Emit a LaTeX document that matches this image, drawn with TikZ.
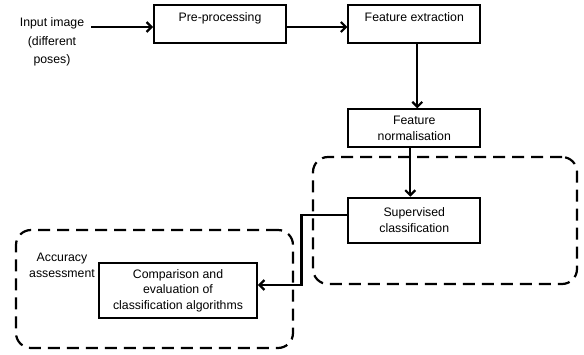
\documentclass[tikz,border=0pt]{standalone}
\usepackage{fontspec}
\setmainfont{Liberation Sans}
\usetikzlibrary{shapes,arrows.meta,positioning,calc}
\tikzset{
    procbox/.style={
        rectangle,
        draw=black,
        line width=1.8pt,
        minimum width=132pt,
        minimum height=38pt,
        align=center,
        font=\fontsize{12.3}{15.5}\selectfont
    },
    toptext/.style={
        inner ysep=0pt,
        text height=16pt,
        text depth=22pt
    },
    plaintext/.style={
        align=center,
        inner sep=2pt,
        font=\fontsize{12.3}{15.5}\selectfont
    },
    groupbox/.style={
        rectangle,
        rounded corners=15pt,
        draw=black,
        line width=2.2pt,
        dash pattern=on 12pt off 7pt
    },
    flow/.style={
        -{Straight Barb[length=5pt,width=10pt]},
        line width=2.2pt
    }
}

\begin{document}
\begin{tikzpicture}[x=1pt,y=-1pt]
\useasboundingbox (0,0) rectangle (584,354);

% Dashed groups
\node[groupbox, minimum width=264pt, minimum height=127pt] (classgroup) at (445,220.5) {};
\node[groupbox, minimum width=277pt, minimum height=118pt] (accgroup) at (154.5,289) {};

% Input
\node[plaintext, font=\fontsize{12.3}{18.5}\selectfont] (input) at (52,42) {Input image\\(different\\poses)};

% Processing chain
\node[procbox, toptext] (pre) at (220,24) {Pre-processing};
\node[procbox, toptext, right=60.5pt of pre] (extract) {Feature extraction};
\node[procbox, below=64.5pt of extract] (norm) {Feature\\normalisation};
\node[procbox, minimum height=45pt, below=48.5pt of norm] (super) {Supervised\\classification};

% Accuracy assessment
\node[plaintext] (acc) at (62,265.5) {Accuracy\\assessment};
\node[procbox, minimum width=158pt, minimum height=55pt] (compare) at (178,290.5) {Comparison and\\evaluation of\\classification algorithms};

\draw[flow] ($(input.east)+(5,-15)$) -- ([yshift=-3pt]pre.west);
\draw[flow] ([yshift=-3pt]pre.east) -- ([yshift=-3pt]extract.west);
\draw[flow] ([xshift=3pt]extract.south) -- ([xshift=3pt]norm.north);
\draw[flow] ([xshift=-4pt]norm.south) -- ([xshift=-4pt]super.north);
\draw[flow] ([yshift=5.5pt]super.west) -- ++(-46,0) |- ([yshift=5.5pt]compare.east);
\end{tikzpicture}
\end{document}
